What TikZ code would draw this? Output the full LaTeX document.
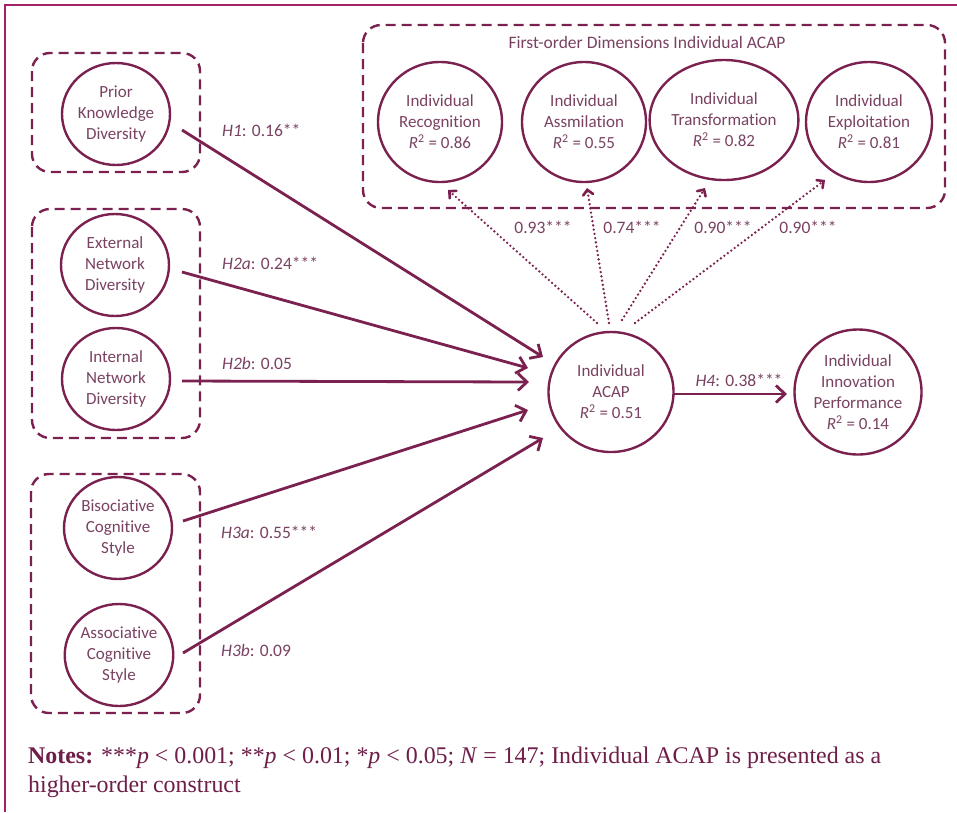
\documentclass[tikz,border=0pt]{standalone}
\usepackage{fontspec}
\setmainfont{Carlito}[Ligatures=NoCommon]
\newfontfamily\notesfont{Liberation Serif}
\usetikzlibrary{arrows.meta,shapes.geometric,calc}
\definecolor{maroon}{HTML}{7B2150}
\definecolor{frame}{HTML}{A3206A}
\definecolor{txt}{HTML}{7A4262}
\definecolor{notec}{HTML}{6E1E48}
\tikzset{
  construct/.style={ellipse, draw=maroon, line width=2.4pt, inner sep=0pt, align=center,
    text=txt, font=\fontsize{17}{21}\selectfont},
  small/.style={construct, minimum width=108pt, minimum height=102pt},
  big/.style={construct, minimum width=124pt, minimum height=120pt},
  groupbox/.style={draw=maroon, line width=2.4pt, dash pattern=on 10pt off 6pt, rounded corners=18pt},
  patharrow/.style={draw=maroon, line width=2.8pt, -{Straight Barb[length=9pt,width=17pt]}},
  loadarrow/.style={draw=maroon, line width=2.6pt, line cap=round, dash pattern=on 0pt off 4.3pt,
    -{Straight Barb[length=5pt,width=10pt,line cap=round]}},
  lbl/.style={text=txt, font=\fontsize{17.5}{20}\selectfont, inner sep=0pt},
}
\newcommand{\Rsq}{{\itshape R}\textsuperscript{2}}
\begin{document}
\begin{tikzpicture}[x=1pt,y=-1pt]
\useasboundingbox (0,0) rectangle (957,812);
\fill[white] (0,0) rectangle (957,812);
% frame
\draw[frame, line width=2.6pt] (5,812) -- (5,5) -- (957,5);

% group boxes
\draw[groupbox] (32,53) rectangle (200,172);
\draw[groupbox] (32,209) rectangle (200,438);
\draw[groupbox] (31,474) rectangle (200,713);
\draw[groupbox] (363,25) rectangle (945,208);
\node[lbl] (title) at (647,42) {First-order Dimensions Individual ACAP};

% left constructs
\node[small] (prior) at (116,114) {Prior\\Knowledge\\Diversity};
\node[small] (ext) at (115,265) {External\\Network\\Diversity};
\node[small] (int) at (116,379) {Internal\\Network\\Diversity};
\node[small] (bis) at (118,528) {Bisociative\\Cognitive\\Style};
\node[small] (ass) at (119,655) {Associative\\Cognitive\\Style};

% first-order dimensions
\node[big] (rec) at (440,122) {Individual\\Recognition\\\Rsq{} = 0.86};
\node[big] (assm) at (584,122) {Individual\\Assmilation\\\Rsq{} = 0.55};
\node[big] (trans) at (724,120) {Individual\\Transformation\\\Rsq{} = 0.82};
\node[big, minimum width=126pt] (expl) at (869,122) {Individual\\Exploitation\\\Rsq{} = 0.81};

% central constructs
\node[big, minimum width=125pt] (acap) at (611,392) {Individual\\ACAP\\\Rsq{} = 0.51};
\node[big, minimum width=127pt, minimum height=125pt] (innov) at (858,392) {Individual\\Innovation\\Performance\\\Rsq{} = 0.14};

% structural paths
\draw[patharrow] ([shift={(66,16)}]prior.center) -- ([shift={(-68,-35)}]acap.center);
\draw[patharrow] ([shift={(67,7)}]ext.center) -- ([shift={(-83,-24)}]acap.center);
\draw[patharrow] ([shift={(66,2)}]int.center) -- ([shift={(-82,-10)}]acap.center);
\draw[patharrow] ([shift={(65,-7)}]bis.center) -- ([shift={(-83,18)}]acap.center);
\draw[patharrow] ([shift={(64,-2)}]ass.center) -- ([shift={(-68,46)}]acap.center);
\draw[patharrow] ([shift={(62,2)}]acap.center) -- ([shift={(-71,2)}]innov.center);

% loadings
\draw[loadarrow] ([shift={(-14,-69)}]acap.center) -- ([shift={(8,68)}]rec.center);
\draw[loadarrow] ([shift={(-2,-69)}]acap.center) -- ([shift={(3,66)}]assm.center);
\draw[loadarrow] ([shift={(11,-72)}]acap.center) -- ([shift={(-19,68)}]trans.center);
\draw[loadarrow] ([shift={(24,-69)}]acap.center) -- ([shift={(-44,58)}]expl.center);

% labels
\node[lbl, anchor=west] (lh1) at (222,130) {\textit{H1}: 0.16**};
\node[lbl, anchor=west] (lh2a) at (222,263) {\textit{H2a}: 0.24***};
\node[lbl, anchor=west] (lh2b) at (222,363) {\textit{H2b}: 0.05};
\node[lbl, anchor=west] (lh3a) at (221,532) {\textit{H3a}: 0.55***};
\node[lbl, anchor=west] (lh3b) at (221,650) {\textit{H3b}: 0.09};
\node[lbl] (lh4) at (739,380) {\textit{H4}: 0.38***};
\node[lbl] (l1) at (543,227) {0.93***};
\node[lbl] (l2) at (632,227) {0.74***};
\node[lbl] (l3) at (723,227) {0.90***};
\node[lbl] (l4) at (808,227) {0.90***};

% notes
\node[anchor=base west, inner sep=0pt, text=notec, font=\notesfont\fontsize{23.9}{29}\selectfont] (notes1) at (28,763)
  {\textbf{Notes:} ***\textit{p} {\textless} 0.001; **\textit{p} {\textless} 0.01; *\textit{p} {\textless} 0.05; \textit{N} = 147; Individual ACAP is presented as a};
\node[anchor=base west, inner sep=0pt, text=notec, font=\notesfont\fontsize{23.9}{29}\selectfont] (notes2) at (28,792)
  {higher-order construct};
\end{tikzpicture}
\end{document}
